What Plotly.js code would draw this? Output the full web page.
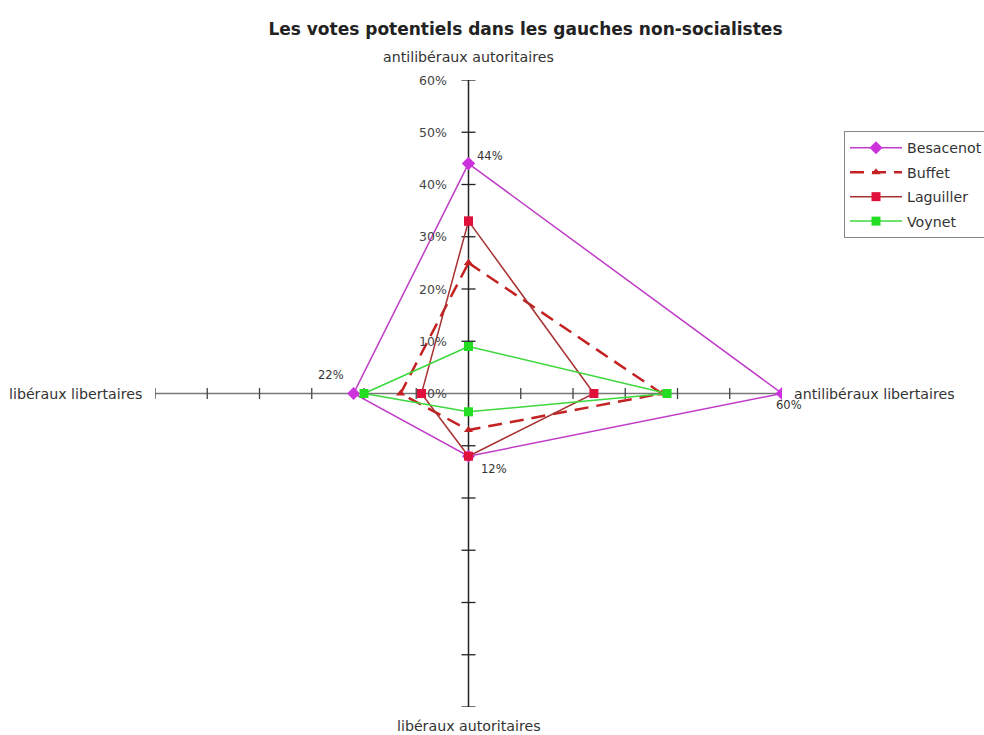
<!DOCTYPE html>
<html>
<head>
<meta charset="utf-8">
<script src="https://cdn.plot.ly/plotly-3.0.1.min.js"></script>
<style>html,body{margin:0;padding:0;background:#fff;}#chart{width:984px;height:735px;}</style>
</head>
<body>
<div id="chart"></div>
<script>
// Axes of the radar, in drawing order: up, right, down, left
const axisNames = ['antilibéraux autoritaires', 'antilibéraux libertaires', 'libéraux autoritaires', 'libéraux libertaires'];
const seriesNames = ['Besacenot', 'Buffet', 'Laguiller', 'Voynet'];
// values in % for [up, right, down, left]
const besacenot = [44, 60, 12, 22];
const buffet    = [25, 37, 7, 13];
const laguiller = [33, 24, 12, 9];
const voynet    = [9, 38, 3.5, 20];
const tickValues = [10, 20, 30, 40, 50, 60];
const tickLabels = ['0%', '10%', '20%', '30%', '40%', '50%', '60%'];
const tickLabelValues = [0, 10, 20, 30, 40, 50, 60];
const maxVal = 60;

const FONT = 'DejaVu Sans, Liberation Sans, Arial, sans-serif';

function toXY(v) {
  // up, right, down, left, back to up (closed polygon)
  return {
    x: [0, v[1], 0, -v[3], 0],
    y: [v[0], 0, -v[2], 0, v[0]]
  };
}

const styles = [
  {line: {color: '#c03cc8', width: 1.5}, marker: {symbol: 'diamond', size: 10, color: '#cc33dd'}},
  {line: {color: '#c42222', width: 2.5, dash: '14px,8px'}, marker: {symbol: 'triangle-up', size: 8, color: '#c42222'}},
  {line: {color: '#a83232', width: 1.5}, marker: {symbol: 'square', size: 9, color: '#e0103a'}},
  {line: {color: '#3cd83c', width: 1.5}, marker: {symbol: 'square', size: 9, color: '#22dd22'}}
];
const allSeries = [besacenot, buffet, laguiller, voynet];

const traces = [];
// tick marks on the horizontal arms
const hx = [], hy = [];
tickValues.forEach(t => { hx.push(t, -t); hy.push(0, 0); });
traces.push({x: hx, y: hy, mode: 'markers', type: 'scatter', showlegend: false, hoverinfo: 'skip',
  marker: {symbol: 'line-ns-open', size: 8, color: '#444', line: {color: '#444', width: 1.3}}});
// tick marks on the vertical arms
const vx = [], vy = [];
tickValues.forEach(t => { vx.push(0, 0); vy.push(t, -t); });
traces.push({x: vx, y: vy, mode: 'markers', type: 'scatter', showlegend: false, hoverinfo: 'skip',
  marker: {symbol: 'line-ew-open', size: 10, color: '#222', line: {color: '#222', width: 1.3}}});

allSeries.forEach((s, i) => {
  const p = toXY(s);
  traces.push({
    x: p.x, y: p.y, type: 'scatter', mode: 'lines+markers', name: seriesNames[i],
    legendgroup: seriesNames[i],
    line: styles[i].line, marker: styles[i].marker
  });
});

const annotations = [];
// tick labels on the upper arm
tickLabelValues.forEach((v, i) => {
  annotations.push({x: 0, y: v, xref: 'x', yref: 'y', text: tickLabels[i], showarrow: false,
    xanchor: 'right', yanchor: 'middle', xshift: -20, font: {family: FONT, size: 12.5, color: '#444'}});
});
// axis names
const axFont = {family: FONT, size: 14.2, color: '#333'};
annotations.push({x: 0, y: maxVal, text: axisNames[0], showarrow: false, xanchor: 'center', yanchor: 'middle', yshift: 23, font: axFont});
annotations.push({x: maxVal, y: 0, text: axisNames[1], showarrow: false, xanchor: 'left', yanchor: 'middle', xshift: 10, font: axFont});
annotations.push({x: 0, y: -maxVal, text: axisNames[2], showarrow: false, xanchor: 'center', yanchor: 'middle', yshift: -19, font: axFont});
annotations.push({x: -maxVal, y: 0, text: axisNames[3], showarrow: false, xanchor: 'right', yanchor: 'middle', xshift: -11, font: axFont});
// data labels for Besacenot
const bp = toXY(besacenot);
const lblFont = {family: FONT, size: 11.5, color: '#333'};
annotations.push({x: bp.x[0], y: bp.y[0], text: besacenot[0] + '%', showarrow: false, xanchor: 'left', yanchor: 'middle', xshift: 6, yshift: 8, font: lblFont});
annotations.push({x: bp.x[1], y: bp.y[1], text: besacenot[1] + '%', showarrow: false, xanchor: 'left', yanchor: 'middle', xshift: -8, yshift: -11, font: lblFont});
annotations.push({x: bp.x[2], y: bp.y[2], text: besacenot[2] + '%', showarrow: false, xanchor: 'left', yanchor: 'middle', xshift: 10, yshift: -13, font: lblFont});
annotations.push({x: bp.x[3], y: bp.y[3], text: besacenot[3] + '%', showarrow: false, xanchor: 'right', yanchor: 'middle', xshift: -8, yshift: 19, font: lblFont});

const layout = {
  width: 984, height: 735,
  margin: {l: 155, r: 202, t: 80, b: 28, autoexpand: false},
  paper_bgcolor: '#fff', plot_bgcolor: '#fff',
  title: {text: 'Les votes potentiels dans les gauches non-socialistes', x: 0.534, xanchor: 'center', y: 0.961, yanchor: 'middle',
    font: {family: FONT, size: 17, weight: 700, color: '#222'}},
  xaxis: {range: [-maxVal, maxVal], visible: false, fixedrange: true},
  yaxis: {range: [-maxVal, maxVal], visible: false, fixedrange: true},
  showlegend: true,
  legend: {xref: 'container', yref: 'container', x: 844 / 984, y: 1 - 131 / 735, xanchor: 'left', yanchor: 'top',
    bordercolor: '#888', borderwidth: 1, bgcolor: '#fff', tracegroupgap: 3, itemwidth: 52,
    font: {family: FONT, size: 14.2, color: '#333'}},
  shapes: [
    {type: 'line', xref: 'x', yref: 'y', x0: -maxVal, x1: maxVal, y0: 0, y1: 0, layer: 'below', line: {color: '#777', width: 1.5}},
    {type: 'line', xref: 'x', yref: 'y', x0: 0, x1: 0, y0: -maxVal, y1: maxVal, layer: 'below', line: {color: '#222', width: 1.5}}
  ],
  annotations: annotations
};

Plotly.newPlot('chart', traces, layout, {displayModeBar: false, staticPlot: true});
</script>
</body>
</html>
